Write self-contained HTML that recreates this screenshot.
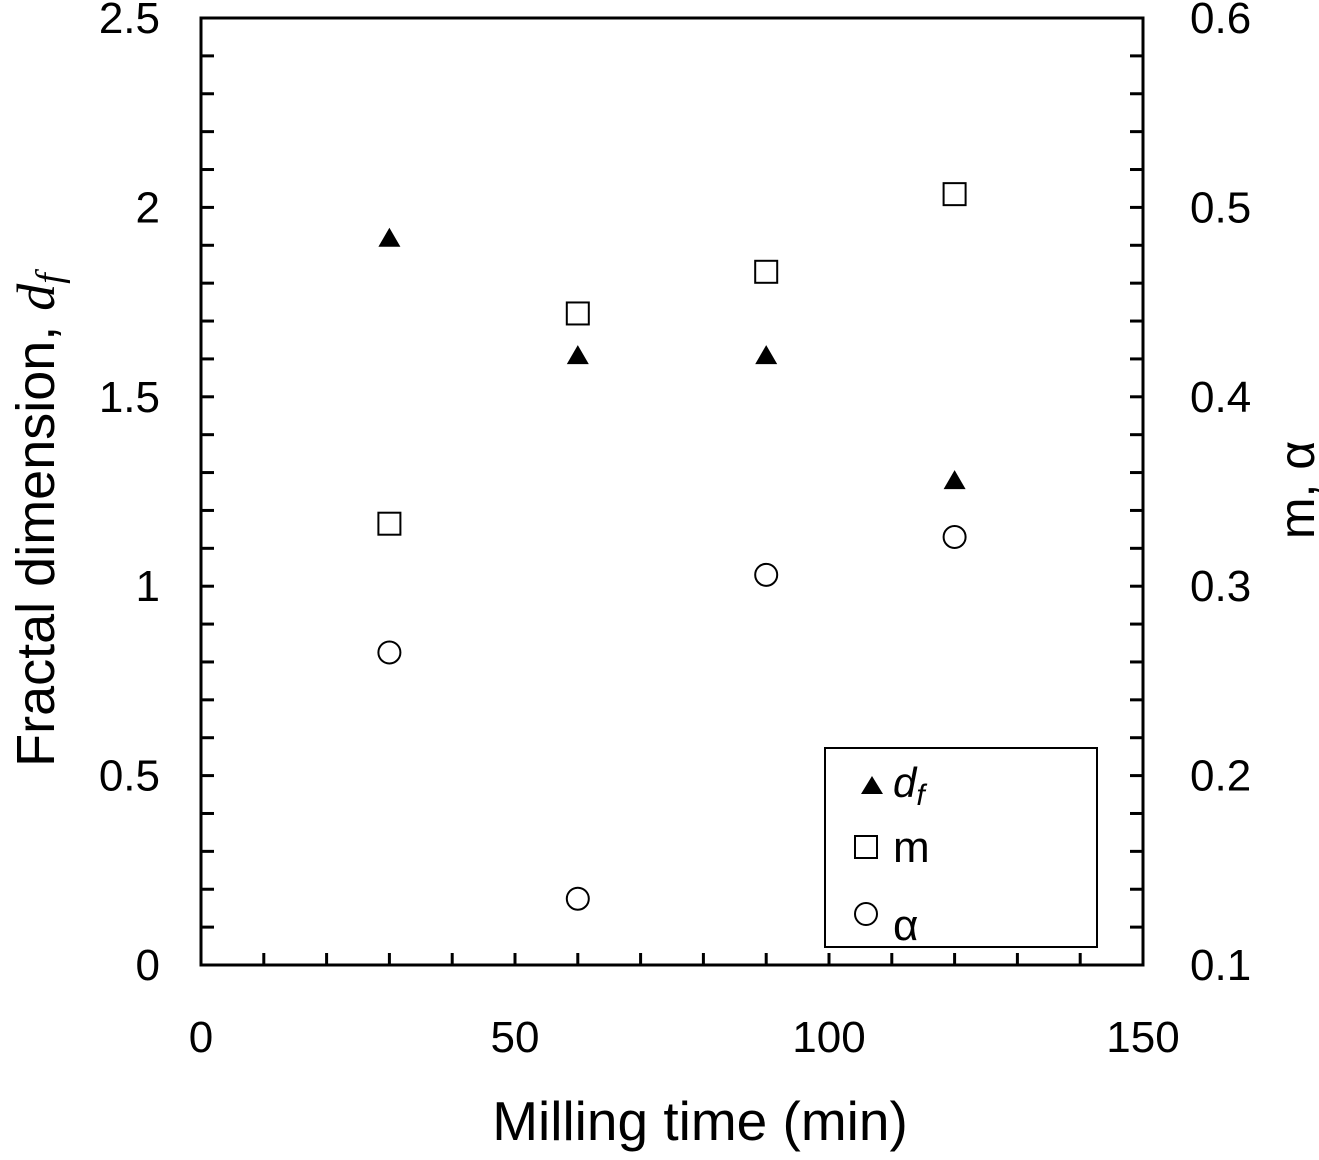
<!DOCTYPE html>
<html><head><meta charset="utf-8"><style>
body{margin:0;background:#fff}
svg text{font-family:"Liberation Sans",sans-serif;fill:#000}
</style></head><body>
<svg id="chart" width="1319" height="1155" viewBox="0 0 1319 1155" xmlns="http://www.w3.org/2000/svg">
<g id="axes"></g><g id="marks"></g>
<g>
<rect x="825" y="748" width="272" height="199" fill="#fff" stroke="#000" stroke-width="2"/>
<polygon points="861,794 872,776 883,794" fill="#000"/>
<text x="893" y="797" font-size="42" font-style="italic" font-family="Liberation Serif,serif">d<tspan font-size="30" dy="8">f</tspan></text>
<rect x="855" y="836" width="22" height="22" fill="none" stroke="#000" stroke-width="2"/>
<text x="893" y="862" font-size="44">m</text>
<circle cx="866" cy="914" r="11" fill="none" stroke="#000" stroke-width="2"/>
<text x="893" y="940" font-size="44">α</text>
</g>
<text x="700" y="1140" font-size="55" text-anchor="middle">Milling time (min)</text>
<text transform="translate(54,520) rotate(-90)" font-size="54" text-anchor="middle">Fractal dimension,  <tspan font-style="italic" font-family="Liberation Serif,serif">d</tspan><tspan font-style="italic" font-family="Liberation Serif,serif" font-size="38" dy="8">f</tspan></text>
<text transform="translate(1314,490) rotate(-90)" font-size="50" text-anchor="middle">m, α</text>
</svg>
<script>
const times=[30,60,90,120];
const dfVals=[1.92,1.61,1.61,1.28];
const mVals=[0.333,0.444,0.466,0.507];
const alphaVals=[0.265,0.135,0.306,0.326];
const xTicks=[0,50,100,150];
const yLeftTicks=[0,0.5,1,1.5,2,2.5];
const yLeftLabels=["0","0.5","1","1.5","2","2.5"];
const yRightTicks=[0.1,0.2,0.3,0.4,0.5,0.6];
const yRightLabels=["0.1","0.2","0.3","0.4","0.5","0.6"];
const L=201,R=1143,T=18,B=965;
const xs=v=>L+(v/150)*(R-L);
const yl=v=>B-(v/2.5)*(B-T);
const yr=v=>B-((v-0.1)/0.5)*(B-T);
const NS="http://www.w3.org/2000/svg";
const ax=document.getElementById('axes'),mk=document.getElementById('marks');
function mkEl(t,a,p){const e=document.createElementNS(NS,t);for(const k in a)e.setAttribute(k,a[k]);p.appendChild(e);return e;}
const frame=mkEl('rect',{x:L,y:T,width:R-L,height:B-T,fill:'none',stroke:'#000','stroke-width':3},ax);


for(let v=10;v<150;v+=10){const t=mkEl('line',{x1:xs(v),x2:xs(v),y1:B,y2:B-12,stroke:'#000','stroke-width':3},ax);

}
for(let i=1;i<25;i++){const v=i*0.1;
const t=mkEl('line',{x1:L,x2:L+13,y1:yl(v),y2:yl(v),stroke:'#000','stroke-width':3},ax);


const r=mkEl('line',{x1:R,x2:R-13,y1:yr(0.1+i*0.02),y2:yr(0.1+i*0.02),stroke:'#000','stroke-width':3},ax);

}
xTicks.forEach(v=>{const t=mkEl('text',{x:xs(v),y:1052,'font-size':44,'text-anchor':'middle'},ax);t.textContent=v;

});
yLeftTicks.forEach((v,i)=>{const t=mkEl('text',{x:160,y:yl(v)+15,'font-size':44,'text-anchor':'end'},ax);t.textContent=yLeftLabels[i];

});
yRightTicks.forEach((v,i)=>{const t=mkEl('text',{x:1190,y:yr(v)+15,'font-size':44},ax);t.textContent=yRightLabels[i];

});
times.forEach((x,i)=>{
const cx=xs(x);
let y=yl(dfVals[i]);
const p=mkEl('polygon',{points:`${cx-11},${y+9} ${cx},${y-10} ${cx+11},${y+9}`,fill:'#000'},mk);


y=yr(mVals[i]);
const s=mkEl('rect',{x:cx-11,y:y-11,width:22,height:22,fill:'none',stroke:'#000','stroke-width':2},mk);


y=yr(alphaVals[i]);
const c=mkEl('circle',{cx:cx,cy:y,r:11,fill:'none',stroke:'#000','stroke-width':2},mk);


});
</script>
</body></html>
